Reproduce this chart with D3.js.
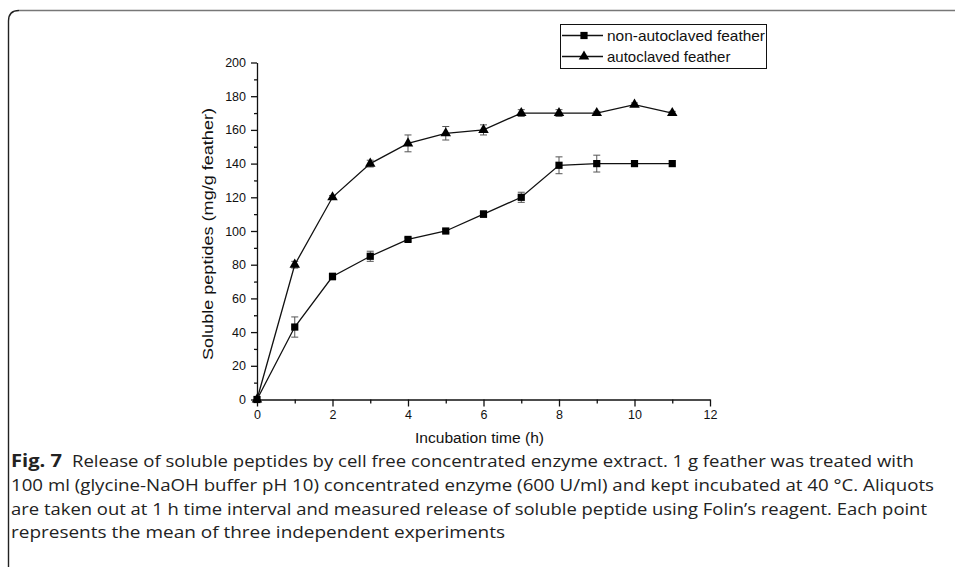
<!DOCTYPE html>
<html>
<head>
<meta charset="utf-8">
<script src="https://cdn.jsdelivr.net/npm/d3@7"></script>
<style>
  body { margin: 0; background: #fff; }
  svg { display: block; }
</style>
</head>
<body>
<script>
// data
var hours = [0, 1, 2, 3, 4, 5, 6, 7, 8, 9, 10, 11];
var nonAuto = [0, 43, 73, 85, 95, 100, 110, 120, 139, 140, 140, 140];
var nonAutoErr = [0, 6, 2, 3, 1, 1, 2, 3, 5, 5, 0, 0];
var auto = [0, 80, 120, 140, 152, 158, 160, 170, 170, 170, 175, 170];
var autoErr = [0, 2, 1, 2, 5, 4, 3, 2, 2, 1, 1, 1];
var legendLabels = ["non-autoclaved feather", "autoclaved feather"];
var captionLines = [
  "Release of soluble peptides by cell free concentrated enzyme extract. 1 g feather was treated with",
  "100 ml (glycine-NaOH buffer pH 10) concentrated enzyme (600 U/ml) and kept incubated at 40 °C. Aliquots",
  "are taken out at 1 h time interval and measured release of soluble peptide using Folin’s reagent. Each point",
  "represents the mean of three independent experiments"
];

var width = 955, height = 567;

var svg = d3.select("body").append("svg")
  .attr("width", width)
  .attr("height", height);

// frame round the figure (top + left with rounded corner)
svg.append("path")
  .attr("d", "M8.5,567 L8.5,21 Q8.5,10.5 19,10.5")
  .attr("fill", "none").attr("stroke", "#222").attr("stroke-width", 1.4);
svg.append("path")
  .attr("d", "M19,10.5 L955,10.5")
  .attr("fill", "none").attr("stroke", "#777").attr("stroke-width", 1.4);

var x = d3.scaleLinear().domain([0, 12]).range([257, 710]);
var y = d3.scaleLinear().domain([0, 200]).range([399.5, 62.5]);

var axisFont = "'Liberation Sans', Arial, sans-serif";

// minor ticks
svg.append("g")
  .attr("transform", "translate(0,399.5)")
  .call(d3.axisBottom(x).tickValues([1, 3, 5, 7, 9, 11]).tickSize(4).tickFormat("").tickSizeOuter(0))
  .call(g => g.select(".domain").remove())
  .selectAll("line").attr("stroke", "#111").attr("stroke-width", 1.3);
svg.append("g")
  .attr("transform", "translate(257,0)")
  .call(d3.axisLeft(y).tickValues(d3.range(10, 200, 20)).tickSize(3).tickFormat("").tickSizeOuter(0))
  .call(g => g.select(".domain").remove())
  .selectAll("line").attr("stroke", "#111").attr("stroke-width", 1.3);

// major axes
var xAxis = svg.append("g")
  .attr("transform", "translate(0,399.5)")
  .call(d3.axisBottom(x).tickValues(d3.range(0, 13, 2)).tickSize(7).tickSizeOuter(0).tickPadding(4));
var yAxis = svg.append("g")
  .attr("transform", "translate(257,0)")
  .call(d3.axisLeft(y).tickValues(d3.range(0, 201, 20)).tickSize(6).tickSizeOuter(0).tickPadding(5));

[xAxis, yAxis].forEach(function(a) {
  a.select(".domain").attr("stroke", "#111").attr("stroke-width", 1.3);
  a.selectAll("line").attr("stroke", "#111").attr("stroke-width", 1.3);
  a.selectAll("text").attr("font-family", axisFont).attr("font-size", 12.5).attr("fill", "#111");
});

// axis titles
svg.append("text")
  .attr("x", 415).attr("y", 443)
  .attr("font-family", axisFont).attr("font-size", 14).attr("fill", "#111")
  .attr("textLength", 129).attr("lengthAdjust", "spacingAndGlyphs")
  .text("Incubation time (h)");
svg.append("text")
  .attr("transform", "translate(213,360) rotate(-90)")
  .attr("font-family", axisFont).attr("font-size", 15).attr("fill", "#111")
  .attr("textLength", 252).attr("lengthAdjust", "spacingAndGlyphs")
  .text("Soluble peptides (mg/g feather)");

var line = d3.line()
  .x(function(d) { return x(d[0]); })
  .y(function(d) { return y(d[1]); });

var series = [
  { vals: nonAuto, err: nonAutoErr, sym: d3.symbolSquare, size: 52 },
  { vals: auto, err: autoErr, sym: d3.symbolTriangle, size: 48 }
];

series.forEach(function(s) {
  var pts = hours.map(function(h, i) { return [h, s.vals[i], s.err[i]]; });
  var g = svg.append("g");

  // error bars
  var eb = g.selectAll(".eb").data(pts.filter(function(d) { return d[2] > 0; }))
    .enter().append("g");
  eb.append("line")
    .attr("x1", function(d) { return x(d[0]); }).attr("x2", function(d) { return x(d[0]); })
    .attr("y1", function(d) { return y(d[1] - d[2]); }).attr("y2", function(d) { return y(d[1] + d[2]); })
    .attr("stroke", "#555").attr("stroke-width", 1);
  [-1, 1].forEach(function(sgn) {
    eb.append("line")
      .attr("x1", function(d) { return x(d[0]) - 3.5; }).attr("x2", function(d) { return x(d[0]) + 3.5; })
      .attr("y1", function(d) { return y(d[1] + sgn * d[2]); }).attr("y2", function(d) { return y(d[1] + sgn * d[2]); })
      .attr("stroke", "#555").attr("stroke-width", 1);
  });

  g.append("path")
    .attr("d", line(pts))
    .attr("fill", "none").attr("stroke", "#111").attr("stroke-width", 1.3);

  g.selectAll(".m").data(pts).enter().append("path")
    .attr("transform", function(d) { return "translate(" + x(d[0]) + "," + y(d[1]) + ")"; })
    .attr("d", d3.symbol().type(s.sym).size(s.size))
    .attr("fill", "#000");
});

// legend
var leg = svg.append("g");
leg.append("rect")
  .attr("x", 560.5).attr("y", 24.5).attr("width", 206).attr("height", 44)
  .attr("fill", "#fff").attr("stroke", "#111").attr("stroke-width", 1);
legendLabels.forEach(function(lab, i) {
  var cy = 35.5 + i * 21;
  leg.append("line").attr("x1", 562).attr("x2", 603).attr("y1", cy).attr("y2", cy)
    .attr("stroke", "#111").attr("stroke-width", 1.3);
  leg.append("path")
    .attr("transform", "translate(584," + cy + ")")
    .attr("d", d3.symbol().type(series[i].sym).size(series[i].size))
    .attr("fill", "#000");
  var t = leg.append("text")
    .attr("x", 607).attr("y", cy + 5.5)
    .attr("font-family", axisFont).attr("font-size", 15).attr("fill", "#111")
    .text(lab);
  if (i === 0) t.attr("textLength", 158).attr("lengthAdjust", "spacingAndGlyphs");
});

// caption
var capFont = "'Open Sans', 'Noto Sans', sans-serif";
var capStart = [72, 11, 11, 11];
var capEnd = [914, 934, 927, 505];
var capY = [467, 490.5, 514.5, 538];
var cap = svg.append("g");
cap.append("text")
  .attr("x", 11).attr("y", capY[0])
  .attr("font-family", capFont).attr("font-size", 18).attr("font-weight", "bold").attr("fill", "#222")
  .attr("textLength", 51).attr("lengthAdjust", "spacingAndGlyphs")
  .text("Fig. 7");
captionLines.forEach(function(t, i) {
  cap.append("text")
    .attr("x", capStart[i]).attr("y", capY[i])
    .attr("font-family", capFont).attr("font-size", 16).attr("fill", "#222")
    .attr("textLength", capEnd[i] - capStart[i]).attr("lengthAdjust", "spacingAndGlyphs")
    .text(t);
});
</script>
</body>
</html>
